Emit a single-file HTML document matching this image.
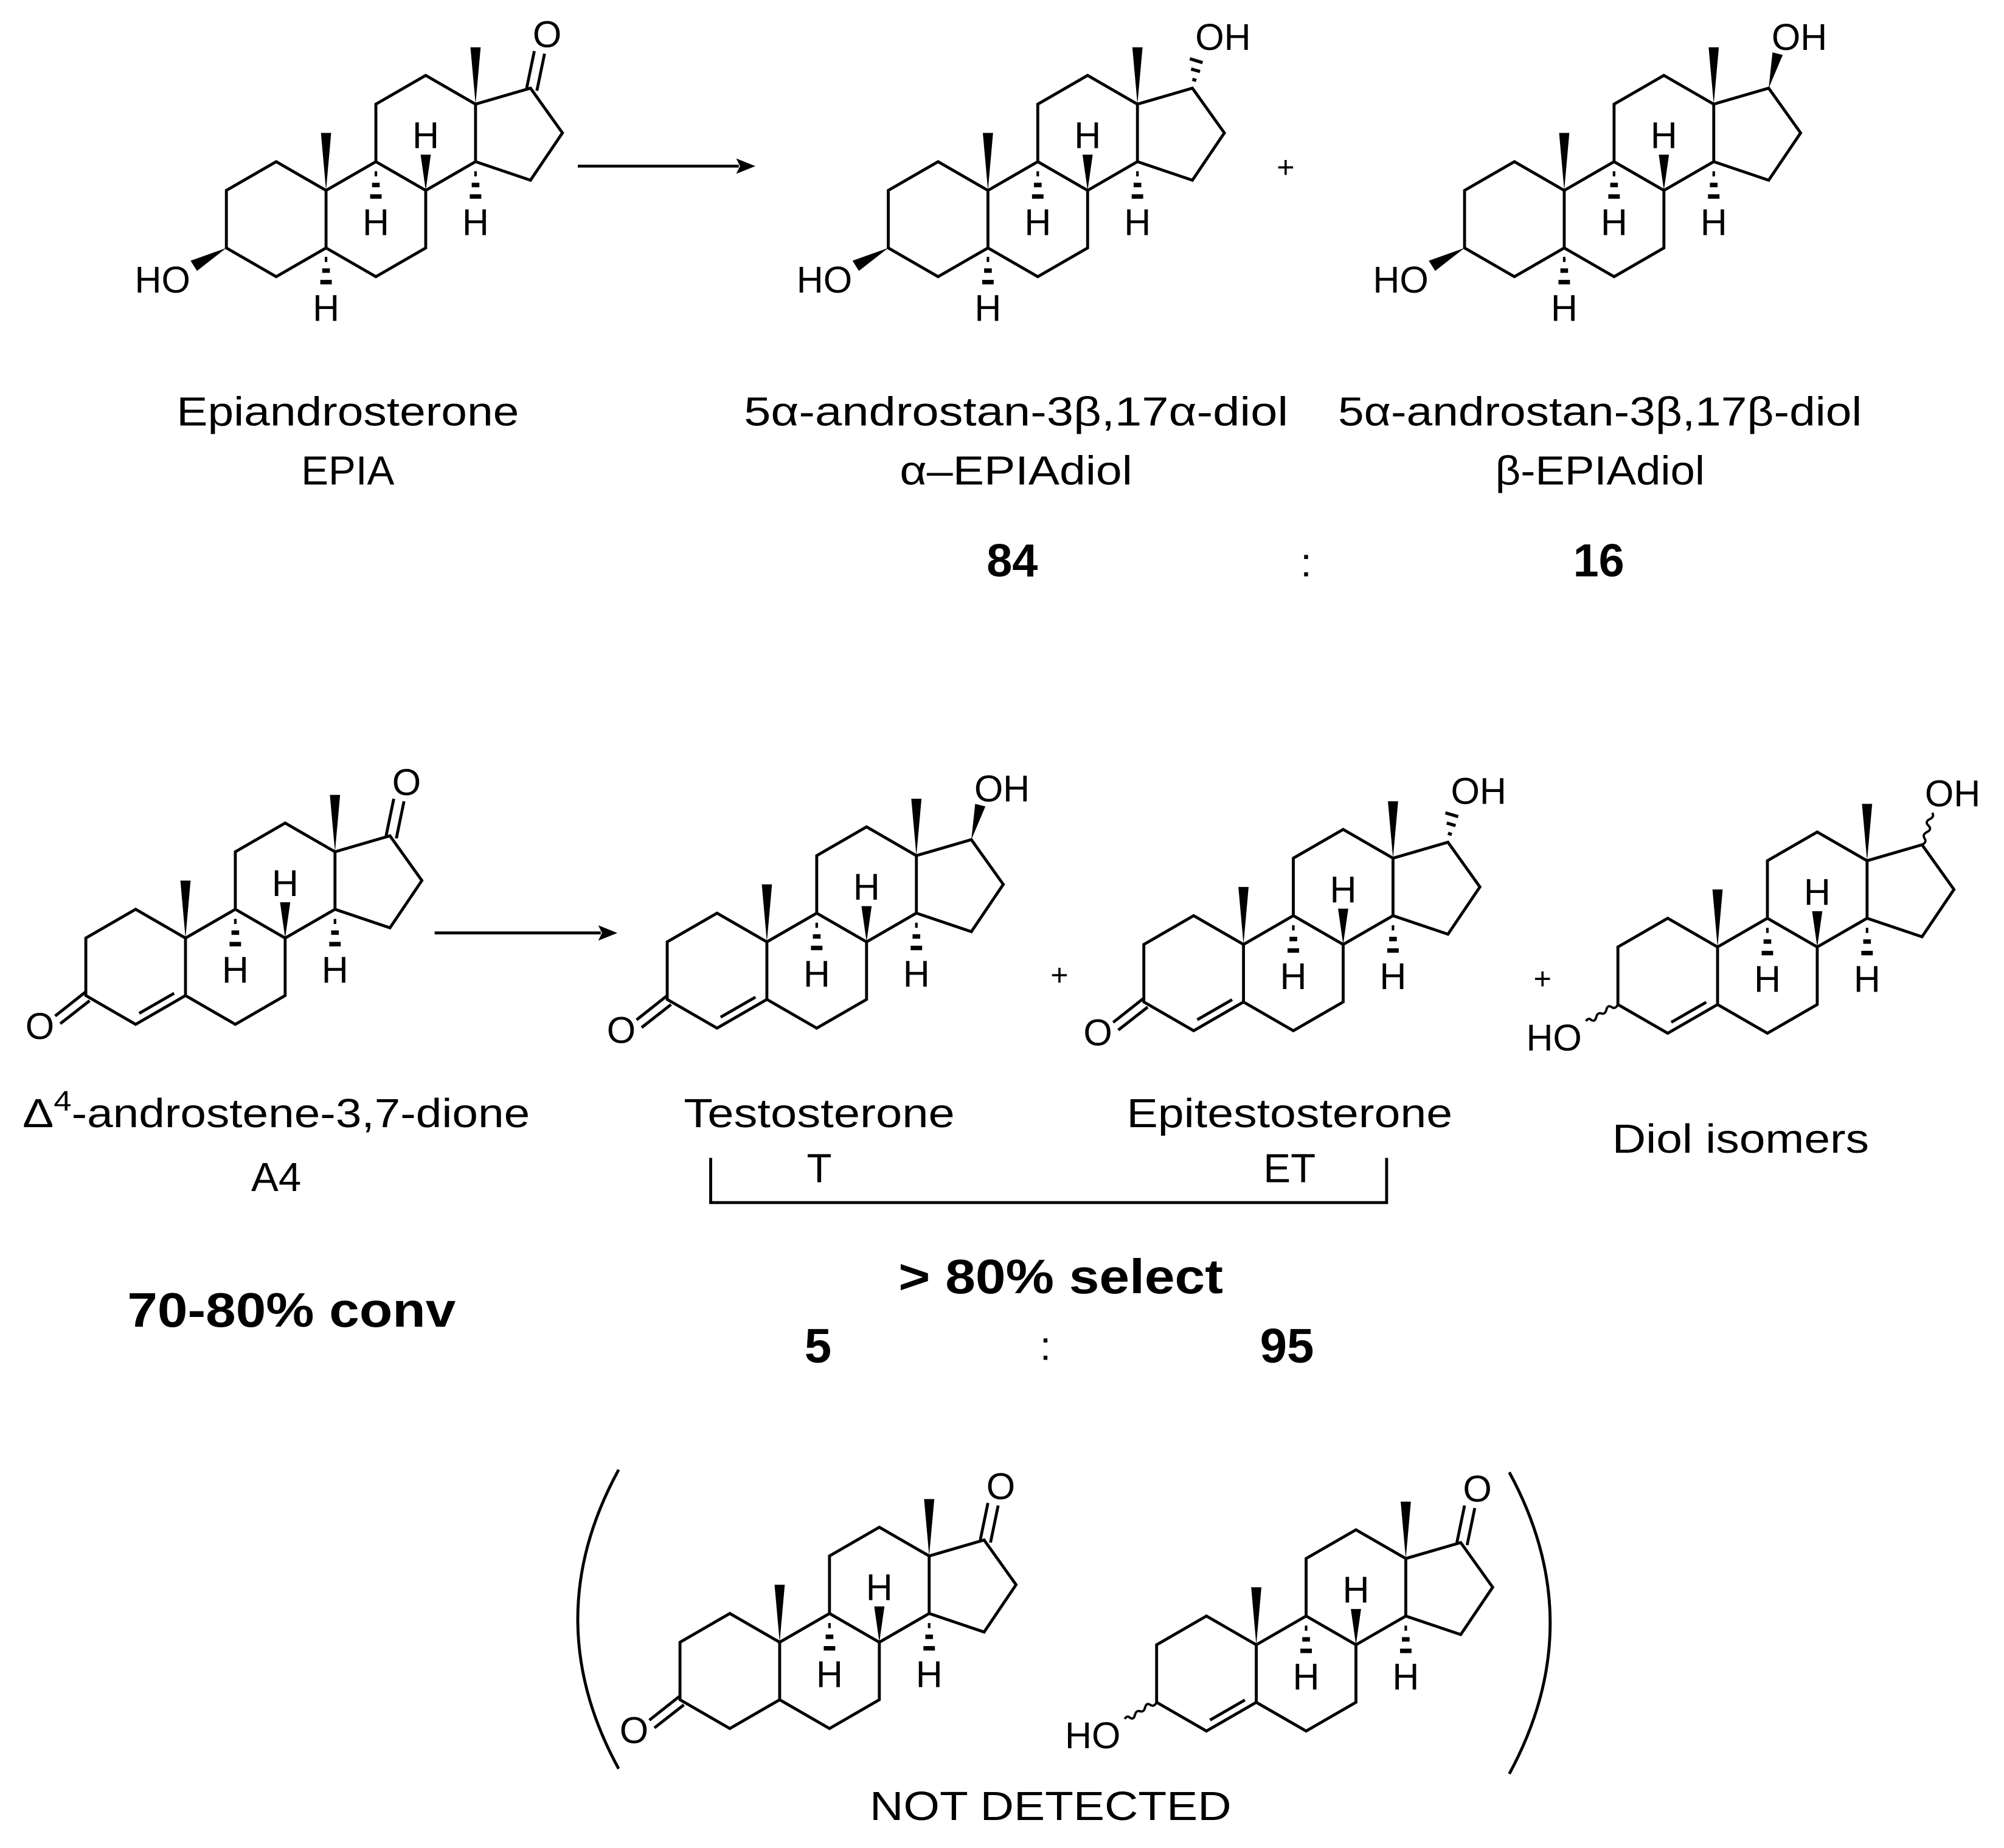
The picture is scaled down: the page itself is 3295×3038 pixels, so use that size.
<!DOCTYPE html>
<html><head><meta charset="utf-8"><style>
html,body{margin:0;padding:0;background:#fff;}
svg{display:block;}
text{font-family:"Liberation Sans",Arial,sans-serif;fill:#000;}
</style></head><body>
<svg width="3295" height="3038" viewBox="0 0 1568 1446" xmlns="http://www.w3.org/2000/svg">
<defs>
<g id="core">
<path d="M0,0 L-39,-22.5 L-78,0 L-78,45 L-39,67.5 L0,45 Z M0,45 L39,67.5 L78,45 L78,0 L39,-22.5 L0,0 M39,-22.5 L39,-67.5 L78,-90 L117,-67.5 L117,-22.5 L78,0 M117,-67.5 L160,-80 L185,-45 L160,-8 L117,-22.5" fill="none" stroke="#000" stroke-width="2.3" stroke-linejoin="miter"/>
<polygon points="0,0 -4,-45 4,-45" fill="#000"/>
<polygon points="117,-67.5 113,-112 121,-112" fill="#000"/>
<polygon points="78,0 74,-28 82,-28" fill="#000"/>
<text x="78" y="-33" font-size="29" text-anchor="middle">H</text>
<rect x="38" y="-15" width="2" height="4"/><rect x="36" y="-6" width="6" height="3.5"/><rect x="34.5" y="3" width="9" height="3.5"/>
<text x="39" y="35" font-size="29" text-anchor="middle">H</text>
<rect x="116" y="-15" width="2" height="4"/><rect x="114" y="-6" width="6" height="3.5"/><rect x="112.5" y="3" width="9" height="3.5"/>
<text x="117" y="35" font-size="29" text-anchor="middle">H</text>
</g>
<g id="h5a">
<rect x="-1" y="52" width="2" height="4"/><rect x="-3" y="61" width="6" height="3.5"/><rect x="-4.5" y="70" width="9" height="3.5"/>
<text x="0" y="102" font-size="29" text-anchor="middle">H</text>
</g>
<g id="ho3b">
<polygon points="-78,45 -106,55 -101,63" fill="#000"/>
<text x="-128" y="80" font-size="29" text-anchor="middle">HO</text>
</g>
<g id="one3">
<path d="M-78,42 L-102,61 M-75,49 L-98,67" stroke="#000" stroke-width="2.3" fill="none"/>
<text x="-114" y="79" font-size="29" text-anchor="middle">O</text>
</g>
<g id="d4">
<path d="M-36.2,58.9 L-8.9,43.2" stroke="#000" stroke-width="2.3" fill="none"/>
</g>
<g id="one17">
<path d="M157,-80 L163,-109 M165,-78 L171,-107" stroke="#000" stroke-width="2.3" fill="none"/>
<text x="173" y="-112" font-size="29" text-anchor="middle">O</text>
</g>
<g id="oh17b">
<polygon points="160,-80 163,-108 171,-106" fill="#000"/>
<text x="184" y="-110" font-size="29" text-anchor="middle">OH</text>
</g>
<g id="oh17a">
<path d="M160,-87 L163,-86 M159,-95 L166,-93 M158,-103 L168,-100" stroke="#000" stroke-width="2.5" fill="none"/>
<text x="184" y="-110" font-size="29" text-anchor="middle">OH</text>
</g>
<g id="wav3">
<path d="M-78,45 q-2,4 -5,2 q-3,-2 -4,2 q-1,4 -4,3 q-3,-1 -4,3 q-1,4 -4,2 q-2,-2 -4,1" stroke="#000" stroke-width="1.8" fill="none"/>
<text x="-128" y="81" font-size="29" text-anchor="middle">HO</text>
</g>
<g id="wav17">
<path d="M160,-80 q4,-2 2,-5 q-2,-3 2,-5 q4,-2 1,-5 q-3,-3 1,-5 q4,-2 2,-5" stroke="#000" stroke-width="1.8" fill="none"/>
<text x="184" y="-110" font-size="29" text-anchor="middle">OH</text>
</g>
</defs>

<g transform="translate(255,149)"><use href="#core"/><use href="#h5a"/><use href="#ho3b"/><use href="#one17"/></g>
<g transform="translate(773,149)"><use href="#core"/><use href="#h5a"/><use href="#ho3b"/><use href="#oh17a"/></g>
<g transform="translate(1224,149)"><use href="#core"/><use href="#h5a"/><use href="#ho3b"/><use href="#oh17b"/></g>
<g transform="translate(145,734)"><use href="#core"/><use href="#d4"/><use href="#one3"/><use href="#one17"/></g>
<g transform="translate(600,737)"><use href="#core"/><use href="#d4"/><use href="#one3"/><use href="#oh17b"/></g>
<g transform="translate(973,739)"><use href="#core"/><use href="#d4"/><use href="#one3"/><use href="#oh17a"/></g>
<g transform="translate(1344,741)"><use href="#core"/><use href="#d4"/><use href="#wav3"/><use href="#wav17"/></g>
<g transform="translate(610,1285)"><use href="#core"/><use href="#one3"/><use href="#one17"/></g>
<g transform="translate(983,1287)"><use href="#core"/><use href="#d4"/><use href="#wav3"/><use href="#one17"/></g>

<line x1="452" y1="130" x2="578" y2="130" stroke="#000" stroke-width="2.3"/>
<polygon points="591,130 576,124 579,130 576,136" fill="#000"/>
<line x1="340" y1="730" x2="470" y2="730" stroke="#000" stroke-width="2.3"/>
<polygon points="483,730 468,724 471,730 468,736" fill="#000"/>

<text x="1006" y="139" font-size="24" text-anchor="middle">+</text>
<text x="829" y="771" font-size="24" text-anchor="middle">+</text>
<text x="1207" y="774" font-size="24" text-anchor="middle">+</text>

<text x="272" y="333" font-size="32" text-anchor="middle" textLength="268" lengthAdjust="spacingAndGlyphs">Epiandrosterone</text>
<text x="272" y="379" font-size="32" text-anchor="middle">EPIA</text>
<text x="795" y="333" font-size="32" text-anchor="middle" textLength="426" lengthAdjust="spacingAndGlyphs">5α-androstan-3β,17α-diol</text>
<text x="795" y="379" font-size="32" text-anchor="middle" textLength="182" lengthAdjust="spacingAndGlyphs">α–EPIAdiol</text>
<text x="1252" y="333" font-size="32" text-anchor="middle" textLength="410" lengthAdjust="spacingAndGlyphs">5α-androstan-3β,17β-diol</text>
<text x="1252" y="379" font-size="32" text-anchor="middle" textLength="164" lengthAdjust="spacingAndGlyphs">β-EPIAdiol</text>
<text x="792" y="451" font-size="36" font-weight="bold" text-anchor="middle">84</text>
<text x="1022" y="451" font-size="32" text-anchor="middle">:</text>
<text x="1251" y="451" font-size="36" font-weight="bold" text-anchor="middle">16</text>

<text x="216" y="882" font-size="32" text-anchor="middle" textLength="397" lengthAdjust="spacingAndGlyphs">Δ<tspan font-size="22" dy="-13">4</tspan><tspan dy="13">-androstene-3,7-dione</tspan></text>
<text x="216" y="932" font-size="32" text-anchor="middle">A4</text>
<text x="228" y="1038" font-size="38" font-weight="bold" text-anchor="middle" textLength="257" lengthAdjust="spacingAndGlyphs">70-80% conv</text>
<text x="641" y="882" font-size="32" text-anchor="middle" textLength="212" lengthAdjust="spacingAndGlyphs">Testosterone</text>
<text x="641" y="925" font-size="32" text-anchor="middle">T</text>
<text x="1009" y="882" font-size="32" text-anchor="middle" textLength="255" lengthAdjust="spacingAndGlyphs">Epitestosterone</text>
<text x="1009" y="925" font-size="32" text-anchor="middle">ET</text>
<text x="1362" y="902" font-size="32" text-anchor="middle" textLength="201" lengthAdjust="spacingAndGlyphs">Diol isomers</text>
<path d="M556,906 L556,941 L1085,941 L1085,906" fill="none" stroke="#000" stroke-width="2.3"/>
<text x="830" y="1012" font-size="38" font-weight="bold" text-anchor="middle" textLength="254" lengthAdjust="spacingAndGlyphs">&gt; 80% select</text>
<text x="640" y="1066" font-size="38" font-weight="bold" text-anchor="middle">5</text>
<text x="818" y="1064" font-size="32" text-anchor="middle">:</text>
<text x="1007" y="1066" font-size="38" font-weight="bold" text-anchor="middle">95</text>

<path d="M484,1150 Q420,1267 484,1384" fill="none" stroke="#000" stroke-width="2.3"/>
<path d="M1181,1152 Q1245,1270 1181,1388" fill="none" stroke="#000" stroke-width="2.3"/>
<text x="822" y="1424" font-size="32" text-anchor="middle" textLength="283" lengthAdjust="spacingAndGlyphs">NOT DETECTED</text>
</svg>
</body></html>
